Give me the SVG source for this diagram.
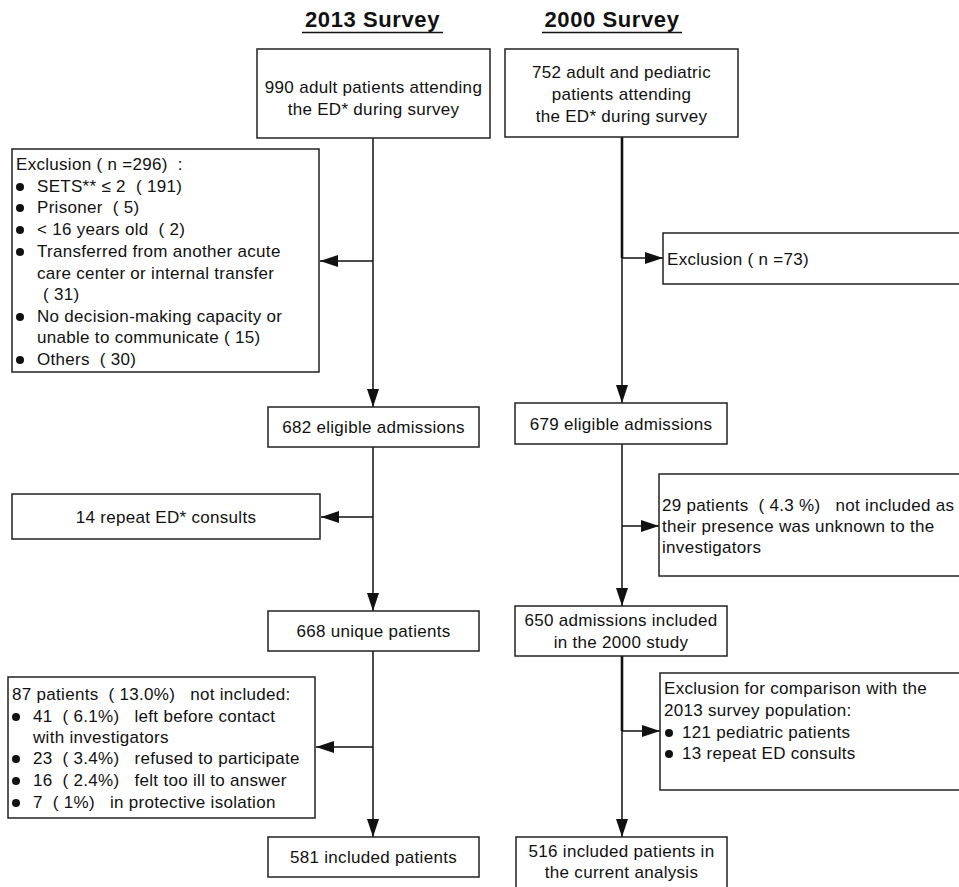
<svg xmlns="http://www.w3.org/2000/svg" width="959" height="887" viewBox="0 0 959 887">
<style>
text{font-family:"Liberation Sans",Arial,sans-serif;font-size:17px;fill:#111;white-space:pre;letter-spacing:0.3px}
.c{text-anchor:middle}
.t{font-size:22px;font-weight:bold;letter-spacing:0.6px}
rect{fill:#fff;stroke:#222;stroke-width:1.5}
.ln{stroke:#111;stroke-width:1.5;fill:none}
.thick{stroke:#111;stroke-width:2.6;fill:none}
.b{fill:#111}
</style>
<defs>
<marker id="ah" viewBox="0 0 18 12" refX="18" refY="6" markerWidth="18" markerHeight="12" markerUnits="userSpaceOnUse" orient="auto">
<path d="M0,0 L18,6 L0,12 Z" fill="#111"/>
</marker>
</defs>
<g id="titles">
<text class="t c" x="372.5" y="27">2013 Survey</text>
<line x1="302" y1="32.5" x2="443" y2="32.5" stroke="#111" stroke-width="1.5"/>
<text class="t c" x="612" y="27">2000 Survey</text>
<line x1="542" y1="32.5" x2="682" y2="32.5" stroke="#111" stroke-width="1.5"/>
</g>
<g id="connectors">
<line class="ln" x1="373" y1="138" x2="373" y2="407" marker-end="url(#ah)"/>
<line class="ln" x1="373" y1="261" x2="320" y2="261" marker-end="url(#ah)"/>
<line class="ln" x1="373" y1="447" x2="373" y2="611" marker-end="url(#ah)"/>
<line class="ln" x1="373" y1="517" x2="321" y2="517" marker-end="url(#ah)"/>
<line class="ln" x1="373" y1="651" x2="373" y2="837" marker-end="url(#ah)"/>
<line class="ln" x1="373" y1="747" x2="316" y2="747" marker-end="url(#ah)"/>
<line class="thick" x1="622" y1="137" x2="622" y2="258"/>
<line class="ln" x1="622" y1="257" x2="622" y2="403" marker-end="url(#ah)"/>
<line class="ln" x1="622" y1="258" x2="663" y2="258" marker-end="url(#ah)"/>
<line class="ln" x1="622" y1="444" x2="622" y2="606" marker-end="url(#ah)"/>
<line class="ln" x1="622" y1="526" x2="659" y2="526" marker-end="url(#ah)"/>
<line class="thick" x1="622" y1="656" x2="622" y2="731"/>
<line class="ln" x1="622" y1="730" x2="622" y2="837" marker-end="url(#ah)"/>
<line class="ln" x1="622" y1="731" x2="660" y2="731" marker-end="url(#ah)"/>
</g>
<g id="n2013_top">
<rect x="257" y="49" width="233" height="89"/>
<text class="c" x="373.5" y="93">990 adult patients attending</text>
<text class="c" x="373.5" y="115">the ED* during survey</text>
</g>
<g id="excl2013">
<rect x="12" y="149" width="307" height="223"/>
<text x="16" y="170">Exclusion ( n =296)  :</text>
<circle class="b" cx="20" cy="187" r="4"/><text x="37" y="192">SETS** ≤ 2  ( 191)</text>
<circle class="b" cx="20" cy="208" r="4"/><text x="37" y="213">Prisoner  ( 5)</text>
<circle class="b" cx="20" cy="230" r="4"/><text x="37" y="235">&lt; 16 years old  ( 2)</text>
<circle class="b" cx="20" cy="252" r="4"/><text x="37" y="257">Transferred from another acute</text>
<text x="37" y="279">care center or internal transfer</text>
<text x="43" y="300">( 31)</text>
<circle class="b" cx="20" cy="317" r="4"/><text x="37" y="322">No decision-making capacity or</text>
<text x="37" y="343">unable to communicate ( 15)</text>
<circle class="b" cx="20" cy="360" r="4"/><text x="37" y="365">Others  ( 30)</text>
</g>
<g id="n682">
<rect x="268" y="407" width="211" height="40"/>
<text class="c" x="373.5" y="433">682 eligible admissions</text>
</g>
<g id="repeat14">
<rect x="12" y="494" width="308" height="45"/>
<text class="c" x="166" y="523">14 repeat ED* consults</text>
</g>
<g id="n668">
<rect x="268" y="611" width="211" height="40"/>
<text class="c" x="373.5" y="637">668 unique patients</text>
</g>
<g id="notinc87">
<rect x="8" y="677" width="307" height="141"/>
<text x="12" y="700">87 patients  ( 13.0%)   not included:</text>
<circle class="b" cx="16" cy="717" r="4"/><text x="33" y="722">41  ( 6.1%)   left before contact</text>
<text x="33" y="743">with investigators</text>
<circle class="b" cx="16" cy="759" r="4"/><text x="33" y="764">23  ( 3.4%)   refused to participate</text>
<circle class="b" cx="16" cy="781" r="4"/><text x="33" y="786">16  ( 2.4%)   felt too ill to answer</text>
<circle class="b" cx="16" cy="803" r="4"/><text x="33" y="808">7  ( 1%)   in protective isolation</text>
</g>
<g id="n581">
<rect x="268" y="837" width="211" height="40"/>
<text class="c" x="373.5" y="863">581 included patients</text>
</g>
<g id="n752">
<rect x="505" y="49" width="233" height="88"/>
<text class="c" x="621.5" y="78">752 adult and pediatric</text>
<text class="c" x="621.5" y="100">patients attending</text>
<text class="c" x="621.5" y="122">the ED* during survey</text>
</g>
<g id="excl73">
<rect x="663" y="233" width="310" height="51"/>
<text x="667" y="265">Exclusion ( n =73)</text>
</g>
<g id="n679">
<rect x="515" y="403" width="212" height="41"/>
<text class="c" x="621" y="430">679 eligible admissions</text>
</g>
<g id="unk29">
<rect x="659" y="474" width="310" height="102"/>
<text x="662" y="511">29 patients  ( 4.3 %)   not included as</text>
<text x="662" y="532">their presence was unknown to the</text>
<text x="662" y="553">investigators</text>
</g>
<g id="n650">
<rect x="515" y="606" width="212" height="50"/>
<text class="c" x="621" y="626">650 admissions included</text>
<text class="c" x="621" y="648">in the 2000 study</text>
</g>
<g id="excl121">
<rect x="660" y="673" width="310" height="117"/>
<text x="664" y="694">Exclusion for comparison with the</text>
<text x="664" y="716">2013 survey population:</text>
<circle class="b" cx="669" cy="733" r="4"/><text x="682" y="738">121 pediatric patients</text>
<circle class="b" cx="669" cy="754" r="4"/><text x="682" y="759">13 repeat ED consults</text>
</g>
<g id="n516">
<rect x="516" y="837" width="211" height="60"/>
<text class="c" x="621.5" y="857">516 included patients in</text>
<text class="c" x="621.5" y="878">the current analysis</text>
</g>
</svg>
